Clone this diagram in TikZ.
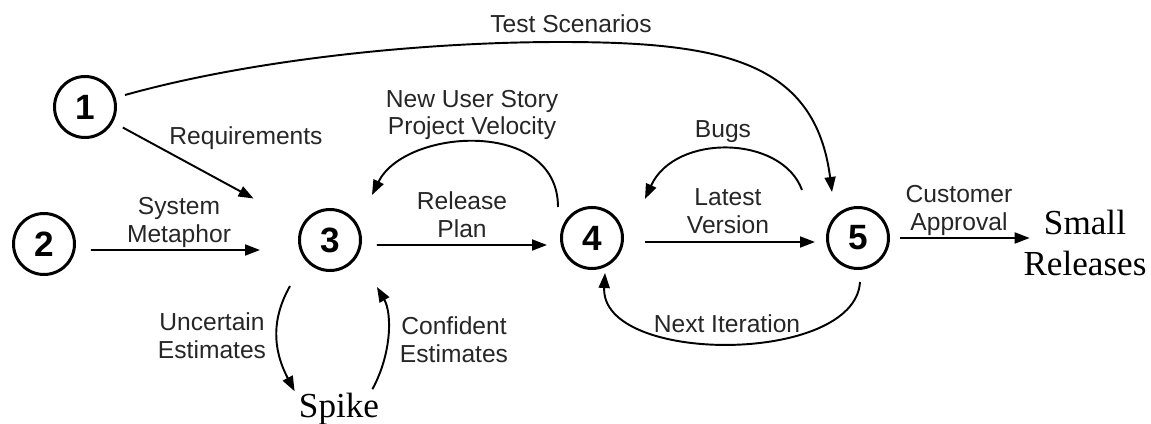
\documentclass[tikz,border=0pt]{standalone}
\usepackage{fontspec}
\setmainfont{Liberation Sans}
\newfontfamily\serifface{Liberation Serif}
\usetikzlibrary{arrows.meta}

\begin{document}
\begin{tikzpicture}[x=0.2mm, y=0.2mm,
    stage/.style={circle, draw, line width=1.7pt, minimum size=1.22cm, inner sep=0pt,
      font=\fontsize{20}{20}\selectfont\bfseries},
    lbl/.style={align=center, inner sep=0pt, text=black!85, font=\fontsize{14}{15.8}\selectfont},
    big/.style={align=center, inner sep=0pt, font=\serifface\fontsize{20}{23}\selectfont},
    flow/.style={line width=1.1pt, -{Triangle[length=0.3cm, width=0.22cm]}}]
  \useasboundingbox (0,0) rectangle (1151,423);
  % stages
  \foreach \n/\x/\y in {1/85/316, 2/44/179, 3/330/183, 4/592/185, 5/858/185}
    \node[stage] (n\n) at (\x,\y) {\n};
  \node[big] (rel) at (1085,180) {Small\\Releases};
  \node[big, anchor=base] (spike) at (339,6) {Spike};
  % straight flows
  \draw[flow, shorten <=2.2mm, shorten >=11mm] (n1) -- (n3);
  \draw[flow, shorten <=3mm, shorten >=7.6mm] ([yshift=-1.2mm]n2.east) -- ([yshift=-2mm]n3.west);
  \draw[flow, shorten <=3mm, shorten >=2.6mm] ([yshift=-1mm]n3.east) -- ([yshift=-1.4mm]n4.west);
  \draw[flow, shorten <=4.2mm, shorten >=2.2mm] ([yshift=-0.8mm]n4.east) -- ([yshift=-0.8mm]n5.west);
  \draw[flow, shorten <=2mm] (n5) -- ([xshift=1.3mm]n5 -| rel.west);
  % curved flows
  \draw[flow] ([shift={(40,12)}]n1.center) .. controls (250,363) and (420,381) .. (560,381)
    .. controls (720,381) and (815,363) .. ([shift={(-26,46)}]n5.center);
  \draw[flow] ([shift={(-34,31)}]n4.center) .. controls (558,305) and (405,295) .. ([shift={(42,45)}]n3.center);
  \draw[flow] ([shift={(-56,48)}]n5.center) .. controls (782,288) and (675,290) .. ([shift={(53,39)}]n4.center);
  \draw[flow] ([shift={(2,-44)}]n5.center) .. controls (855,58) and (600,58) .. ([shift={(13,-35)}]n4.center);
  \draw[flow] ([shift={(-40,-46)}]n3.center) .. controls (272,105) and (272,75) .. ([shift={(-4,1)}]spike.north west);
  \draw[flow] ([shift={(-7,3)}]spike.north east) .. controls (392,70) and (392,110) .. ([shift={(47,-47)}]n3.center);
  % labels
  \foreach \i/\x/\y/\txt in {
    tests/571/399/{Test Scenarios},
    req/246/284.5/{Requirements},
    sys/179/200.5/{System\\Metaphor},
    plan/462/208.5/{Release\\Plan},
    story/472/308/{New User Story\\Project Velocity},
    bugs/723/291/{Bugs},
    latest/728/212/{Latest\\Version},
    next/727/99.5/{Next Iteration},
    appr/959/212.5/{Customer\\Approval},
    unc/212/87/{Uncertain\\Estimates},
    conf/454/83/{Confident\\Estimates}%
  }
    \node[lbl] (l-\i) at (\x,\y) {\txt};
\end{tikzpicture}
\end{document}
